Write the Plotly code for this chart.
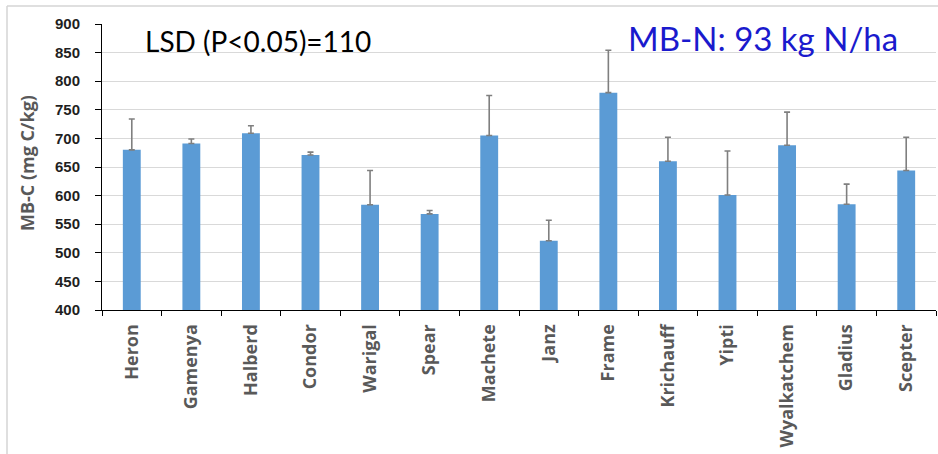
import plotly.graph_objects as go

# Wheat cultivars and microbial biomass carbon (mg C/kg) with upper error bars
cultivars = ["Heron", "Gamenya", "Halberd", "Condor", "Warigal", "Spear", "Machete",
             "Janz", "Frame", "Krichauff", "Yipti", "Wyalkatchem", "Gladius", "Scepter"]
mbc = [680, 691, 709, 671, 584, 568, 705, 521, 780, 660, 601, 688, 585, 644]
mbc_err = [54, 8, 13, 5, 60, 6, 70, 36, 74, 42, 77, 58, 35, 58]

y_ticks = list(range(400, 901, 50))

W, H = 938, 454
M_L, M_R, M_T, M_B = 102, 2, 24, 144
plot_w = W - M_L - M_R
plot_h = H - M_T - M_B


def px_x(px):
    return (px - M_L) / plot_w


def px_y(py):
    return (H - M_B - py) / plot_h


fig = go.Figure()
fig.add_trace(go.Bar(
    x=cultivars,
    y=mbc,
    marker=dict(color="#5B9BD5", line=dict(width=0)),
    error_y=dict(type="data", array=mbc_err, arrayminus=[0] * len(mbc_err),
                 symmetric=False, color="#7F7F7F", thickness=1.6, width=3),
    showlegend=False,
))

fig.update_layout(
    width=W, height=H,
    margin=dict(l=M_L, r=M_R, t=M_T, b=M_B, autoexpand=False),
    paper_bgcolor="white", plot_bgcolor="white",
    bargap=0.70,
    xaxis=dict(
        type="category",
        tickson="boundaries",
        ticks="outside", ticklen=5, tickcolor="#000000", tickwidth=1,
        showline=True, linecolor="#000000", linewidth=1,
        showgrid=False,
        tickangle=-90,
        ticklabelstandoff=6,
        tickfont=dict(family="Open Sans", size=18, color="#595959", weight="bold"),
        automargin=False,
    ),
    yaxis=dict(
        range=[400, 900],
        tickvals=y_ticks,
        ticks="outside", ticklen=6, tickcolor="#000000", tickwidth=1,
        showline=True, linecolor="#000000", linewidth=1,
        showgrid=True, gridcolor="#D9D9D9", gridwidth=1,
        zeroline=False,
        ticklabelstandoff=12,
        tickfont=dict(family="Liberation Sans", size=15, color="#1F1F1F", weight="bold"),
        automargin=False,
    ),
    annotations=[
        dict(text="MB-C (mg C/kg)", textangle=-90, showarrow=False,
             xref="paper", yref="paper", x=px_x(27), y=px_y(163),
             xanchor="center", yanchor="middle",
             font=dict(family="Open Sans", size=18, color="#595959", weight="bold")),
        dict(text="LSD (P<0.05)=110", showarrow=False,
             xref="paper", yref="paper", x=px_x(258), y=px_y(41),
             xanchor="center", yanchor="middle",
             font=dict(family="Lato", size=28, color="#000000")),
        dict(text="MB-N: 93 kg N/ha", showarrow=False,
             xref="paper", yref="paper", x=px_x(763), y=px_y(38),
             xanchor="center", yanchor="middle",
             font=dict(family="Lato", size=33, color="#1A1ACD")),
    ],
    shapes=[
        dict(type="line", xref="paper", yref="paper",
             x0=px_x(7), x1=px_x(950), y0=px_y(6), y1=px_y(6),
             line=dict(color="#D4D4D4", width=1.5)),
        dict(type="line", xref="paper", yref="paper",
             x0=px_x(7), x1=px_x(7), y0=px_y(6), y1=px_y(470),
             line=dict(color="#D4D4D4", width=1.5)),
    ],
)

fig.write_html("out.html")
